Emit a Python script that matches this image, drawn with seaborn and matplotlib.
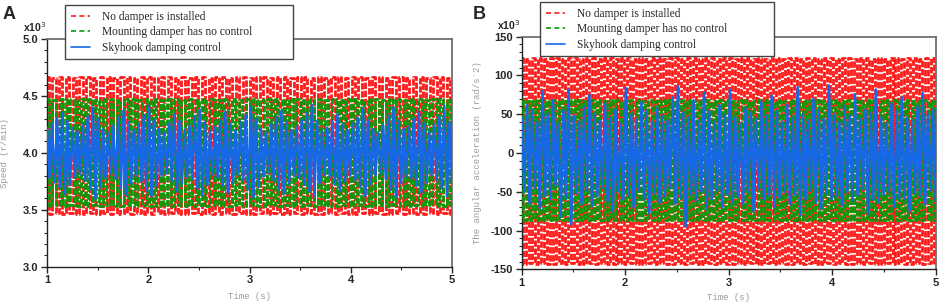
"""
Engine speed / angular acceleration under three damper settings.
Panel A: speed, panel B: angular acceleration, time 1-5 s.
"""

import numpy as np
import matplotlib
matplotlib.use("Agg")
import matplotlib.pyplot as plt
import matplotlib.ticker as mticker
from matplotlib.lines import Line2D
import seaborn as sns

# ── Data (successive peak / trough values) ───────────────────────────────────
# Panel A, speed in x10^3 r/min
RED_A = [
    4.67, 3.46, 4.66, 3.47, 4.67, 3.46, 4.67, 3.47, 4.66, 3.46, 4.67, 3.46, 4.67, 3.47, 4.66, 3.46, 4.67, 3.47, 4.67, 3.46,
    4.66, 3.46, 4.67, 3.47, 4.67, 3.46, 4.66, 3.47, 4.67, 3.46, 4.67, 3.46, 4.66, 3.47, 4.67, 3.46, 4.67, 3.47, 4.66, 3.46,
    4.67, 3.46, 4.66, 3.47, 4.67, 3.46, 4.67, 3.47, 4.66, 3.46, 4.67, 3.46, 4.67, 3.47, 4.66, 3.46, 4.67, 3.47, 4.67, 3.46,
    4.66, 3.46, 4.67, 3.47, 4.67, 3.46, 4.66, 3.47, 4.67, 3.46, 4.67, 3.46, 4.66, 3.47, 4.67, 3.46, 4.67, 3.47, 4.66, 3.46,
    4.67, 3.46, 4.66, 3.47, 4.67, 3.46, 4.67, 3.47, 4.66, 3.46, 4.67, 3.46, 4.67, 3.47, 4.66, 3.46, 4.67, 3.47, 4.67, 3.46,
    4.66, 3.46, 4.67, 3.47, 4.67, 3.46, 4.66, 3.47, 4.67, 3.46, 4.67, 3.46, 4.66, 3.47, 4.67, 3.46, 4.67, 3.47, 4.66, 3.46,
]
GREEN_A = [
    4.47, 3.53, 4.46, 3.54, 4.47, 3.53, 4.47, 3.54, 4.46, 3.53, 4.47, 3.53, 4.47, 3.54, 4.46, 3.53, 4.47, 3.54, 4.47, 3.53,
    4.46, 3.53, 4.47, 3.54, 4.47, 3.53, 4.46, 3.54, 4.47, 3.53, 4.47, 3.53, 4.46, 3.54, 4.47, 3.53, 4.47, 3.54, 4.46, 3.53,
    4.47, 3.53, 4.46, 3.54, 4.47, 3.53, 4.47, 3.54, 4.46, 3.53, 4.47, 3.53, 4.47, 3.54, 4.46, 3.53, 4.47, 3.54, 4.47, 3.53,
    4.46, 3.53, 4.47, 3.54, 4.47, 3.53, 4.46, 3.54, 4.47, 3.53, 4.47, 3.53, 4.46, 3.54, 4.47, 3.53, 4.47, 3.54, 4.46, 3.53,
    4.47, 3.53, 4.46, 3.54, 4.47, 3.53, 4.47, 3.54, 4.46, 3.53, 4.47, 3.53, 4.47, 3.54, 4.46, 3.53, 4.47, 3.54, 4.47, 3.53,
    4.46, 3.53, 4.47, 3.54, 4.47, 3.53, 4.46, 3.54, 4.47, 3.53, 4.47, 3.53, 4.46, 3.54,
]
BLUE_A = [
    4.22, 3.78, 4.26, 3.74, 4.30, 3.70, 4.35, 3.64, 4.28, 3.72, 4.22, 3.79, 4.19, 3.81, 4.25, 3.76, 4.32, 3.68, 4.40, 3.60,
    4.30, 3.70, 4.21, 3.78, 4.18, 3.82, 4.24, 3.77, 4.31, 3.69, 4.37, 3.63, 4.27, 3.73, 4.20, 3.80, 4.25, 3.75, 4.33, 3.67,
    4.41, 3.62, 4.29, 3.71, 4.21, 3.80, 4.18, 3.82, 4.26, 3.75, 4.34, 3.66, 4.28, 3.73, 4.20, 3.79, 4.24, 3.77, 4.32, 3.69,
    4.38, 3.63, 4.27, 3.72, 4.19, 3.81, 4.23, 3.78, 4.29, 3.71, 4.36, 3.65, 4.26, 3.74, 4.20, 3.81, 4.27, 3.76, 4.33, 3.68,
    4.40, 3.61, 4.30, 3.70, 4.21, 3.79, 4.18, 3.82, 4.25, 3.76, 4.32, 3.68, 4.37, 3.64, 4.27, 3.73, 4.20, 3.80, 4.23, 3.78,
    4.29, 3.72, 4.35, 3.66, 4.42, 3.62, 4.28, 3.73, 4.19, 3.81, 4.22, 3.79, 4.28, 3.72, 4.34, 3.67, 4.25, 3.75, 4.20, 3.80,
    4.26, 3.76, 4.31, 3.70, 4.39, 3.62, 4.29, 3.72, 4.21, 3.80, 4.18, 3.82, 4.24, 3.77, 4.33, 3.68, 4.40, 3.61, 4.28, 3.73,
    4.21, 3.79, 4.23, 3.78, 4.30, 3.71, 4.36, 3.65, 4.26, 3.74, 4.19, 3.81, 4.25, 3.76, 4.32, 3.69, 4.41, 3.62, 4.27, 3.74,
]

# Panel B, angular acceleration in x10^3 rad/s^2
RED_B = [
    122, -143, 121, -142, 122, -143, 122, -142, 121, -143, 122, -143, 122, -142, 121, -143, 122, -142, 122, -143,
    121, -143, 122, -142, 122, -143, 121, -142, 122, -143, 122, -143, 121, -142, 122, -143, 122, -142, 121, -143,
    122, -143, 121, -142, 122, -143, 122, -142, 121, -143, 122, -143, 122, -142, 121, -143, 122, -142, 122, -143,
    121, -143, 122, -142, 122, -143, 121, -142, 122, -143, 122, -143, 121, -142, 122, -143, 122, -142, 121, -143,
    122, -143, 121, -142, 122, -143, 122, -142, 121, -143, 122, -143, 122, -142, 121, -143, 122, -142, 122, -143,
    121, -143, 122, -142, 122, -143, 121, -142, 122, -143, 122, -143, 121, -142, 122, -143, 122, -142, 121, -143,
    122, -143, 121, -142, 122, -143, 122, -142, 121, -143, 122, -143, 122, -142, 121, -143, 122, -142, 122, -143,
]
GREEN_B = [
    68, -87, 67, -86, 68, -87, 68, -86, 67, -87, 68, -87, 68, -86, 67, -87, 68, -86, 68, -87,
    67, -87, 68, -86, 68, -87, 67, -86, 68, -87, 68, -87, 67, -86, 68, -87, 68, -86, 67, -87,
    68, -87, 67, -86, 68, -87, 68, -86, 67, -87, 68, -87, 68, -86, 67, -87, 68, -86, 68, -87,
    67, -87, 68, -86, 68, -87, 67, -86, 68, -87, 68, -87, 67, -86, 68, -87, 68, -86, 67, -87,
    68, -87, 67, -86, 68, -87, 68, -86, 67, -87, 68, -87, 68, -86, 67, -87, 68, -86, 68, -87,
    67, -87, 68, -86, 68, -87, 67, -86, 68, -87, 68, -87, 67, -86, 68, -87, 68, -86, 67, -87,
    68, -87, 67, -86, 68, -87, 68, -86, 67, -87,
]
BLUE_B = [
    45, -50, 62, -65, 55, -45, 40, -72, 80, -55, 50, -60, 68, -42, 38, -82, 55, -58, 82, -92,
    48, -52, 40, -66, 60, -48, 75, -68, 50, -56, 42, -45, 64, -62, 45, -75, 56, -50, 38, -60,
    84, -55, 50, -70, 44, -48, 66, -60, 54, -78, 40, -52, 58, -64, 48, -56, 42, -45, 72, -66,
    86, -58, 52, -95, 46, -54, 68, -62, 42, -50, 78, -72, 54, -60, 40, -48, 62, -70, 50, -54,
    82, -64, 46, -56, 38, -66, 58, -50, 52, -75, 44, -46, 66, -60, 48, -55, 74, -70, 54, -58,
    40, -50, 62, -66, 46, -54, 85, -80, 50, -60, 42, -48, 70, -64, 55, -72, 44, -52, 87, -60,
    50, -56, 40, -68, 60, -50, 48, -62, 76, -55, 44, -46, 56, -78, 52, -60, 82, -64, 46, -54,
    38, -50, 64, -70, 54, -58, 72, -60, 46, -75, 42, -52, 60, -56, 78, -66, 50, -48, 56, -62,
]

LABELS = ["No damper is installed", "Mounting damper has no control", "Skyhook damping control"]
COLORS = ["#ff1a1a", "#089a08", "#1668e6"]

SERIES = {
    "A": [RED_A, GREEN_A, BLUE_A],
    "B": [RED_B, GREEN_B, BLUE_B],
}

# ── Style ─────────────────────────────────────────────────────────────────────
sns.set_style("ticks")
plt.rcParams["font.family"] = ["Liberation Sans", "DejaVu Sans"]

W, H = 941, 306
fig = plt.figure(figsize=(W / 100, H / 100), dpi=100)


def px_box(x0, y0, x1, y1):
    # pixel box (top-left origin) -> figure fraction rect
    return [x0 / W, 1 - y1 / H, (x1 - x0) / W, (y1 - y0) / H]


def draw_panel(rect, series, ylim, ymajor, yminor, yfmt, ylabel, xlab_y,
               letter, letter_x, legend_box):
    ax = fig.add_axes(rect)
    for i, (vals, color) in enumerate(zip(series, COLORS)):
        t = np.linspace(1, 5, len(vals))
        if i < 2:
            sns.lineplot(x=t, y=vals, sort=False, estimator=None, ax=ax,
                         color=color, lw=2.0, linestyle=(0, (2.3, 0.6)),
                         drawstyle="steps-mid", zorder=2 + i)
        else:
            sns.lineplot(x=t, y=vals, sort=False, estimator=None, ax=ax,
                         color=color, lw=1.8, zorder=2 + i)
    ax.set_xlim(1, 5)
    ax.set_ylim(*ylim)
    ax.xaxis.set_major_locator(mticker.MultipleLocator(1))
    ax.xaxis.set_minor_locator(mticker.MultipleLocator(0.5))
    ax.yaxis.set_major_locator(mticker.MultipleLocator(ymajor))
    ax.yaxis.set_minor_locator(mticker.MultipleLocator(yminor))
    ax.yaxis.set_major_formatter(mticker.FormatStrFormatter(yfmt))
    ax.tick_params(which="major", direction="out", length=4, width=1, labelsize=8, pad=2)
    ax.tick_params(which="minor", direction="out", length=2.5, width=0.8)
    for lab in ax.get_xticklabels() + ax.get_yticklabels():
        lab.set_fontweight("bold")
    for side in ("left", "bottom"):
        ax.spines[side].set_color("#222222")
        ax.spines[side].set_linewidth(1.0)
    for side in ("top", "right"):
        ax.spines[side].set_color("#707070")
        ax.spines[side].set_linewidth(1.3)

    mono = dict(family=["Liberation Mono", "DejaVu Sans Mono"], color="#9a9a9a", fontsize=6.5)
    ax.set_xlabel("Time (s)", **mono)
    ax.set_ylabel(ylabel, **mono)
    ax.xaxis.set_label_coords(0.5, xlab_y)
    ax.yaxis.set_label_coords(-0.095, 0.5)

    ax.text(-0.06, 1.02, r"x10$^{3}$", transform=ax.transAxes, fontsize=7.5,
            fontweight="bold", ha="left", va="bottom")
    fig.text(letter_x / W, 1 - 6 / H, letter, fontsize=13, fontweight="bold",
             ha="left", va="top")

    handles = [Line2D([], [], color=c, lw=1.2, linestyle="-" if i == 2 else (0, (3, 2)))
               for i, c in enumerate(COLORS)]
    x0, y0, x1, y1 = legend_box
    leg = fig.legend(handles, LABELS, loc="upper left",
                     bbox_to_anchor=(x0 / W, 1 - y1 / H, (x1 - x0) / W, (y1 - y0) / H),
                     mode="expand", borderaxespad=0, frameon=True, fancybox=False,
                     handlelength=1.7, handletextpad=1.0, labelspacing=0.3,
                     borderpad=0.5, prop=dict(family=["Liberation Serif"], size=8.3))
    leg.get_frame().set_edgecolor("#444444")
    leg.get_frame().set_linewidth(1.0)
    leg.get_frame().set_alpha(1)
    return ax


draw_panel(px_box(47, 39, 452, 266.7), SERIES["A"], (3.0, 5.0), 0.5, 0.1, "%.1f",
           "Speed (r/min)", -0.11, "A", 3, (65, 5, 293, 57))
draw_panel(px_box(521.7, 36.7, 935.7, 269.3), SERIES["B"], (-150, 150), 50, 10, "%d",
           "The angular acceleration (rad/s`2)", -0.1, "B", 473, (540, 2, 774, 54))

fig.savefig("out.png", dpi=100)
